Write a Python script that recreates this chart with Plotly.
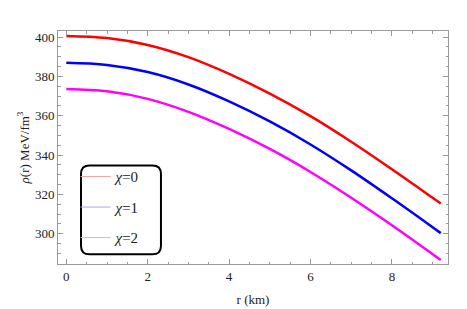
import plotly.graph_objects as go

r_km = [0, 1, 2, 3, 4, 5, 6, 7, 8, 9, 9.2]
rho_chi0 = [400.6, 399.5, 396.0, 389.8, 381.3, 371.3, 359.8, 346.8, 332.8, 318.3, 315.4]
rho_chi1 = [386.9, 385.8, 382.2, 375.9, 367.3, 357.1, 345.4, 332.2, 318.0, 303.3, 300.3]
rho_chi2 = [373.6, 372.4, 368.6, 362.0, 353.3, 343.1, 331.4, 318.3, 304.3, 289.6, 286.6]
series_names = ["<i>χ</i>=0", "<i>χ</i>=1", "<i>χ</i>=2"]
line_colors = ["#ff0000", "#0000ff", "#ff00ff"]
legend_colors = ["#f2a0a0", "#a8a8f4", "#f4a0f4"]

fig = go.Figure()
for i, ys in enumerate([rho_chi0, rho_chi1, rho_chi2]):
    fig.add_trace(go.Scatter(x=r_km, y=ys, mode="lines", line=dict(color=line_colors[i], width=2.5, shape="spline"),
                             showlegend=False, hoverinfo="skip", legendgroup=f"c{i}"))
for i, name in enumerate(series_names):
    fig.add_trace(go.Scatter(x=[None], y=[None], mode="lines", name=name, legendgroup=f"g{i}",
                             line=dict(color=legend_colors[i], width=1)))

# rounded legend frame (paper coordinates)
x0, x1, y0, y1 = 0.059, 0.264, 0.0415, 0.423
rx, ry = 0.022, 0.036
path = (f"M {x0+rx},{y0} L {x1-rx},{y0} Q {x1},{y0} {x1},{y0+ry} L {x1},{y1-ry} Q {x1},{y1} {x1-rx},{y1} "
        f"L {x0+rx},{y1} Q {x0},{y1} {x0},{y1-ry} L {x0},{y0+ry} Q {x0},{y0} {x0+rx},{y0} Z")
fig.add_shape(type="path", path=path, xref="paper", yref="paper", line=dict(color="black", width=2),
              fillcolor="white", layer="below")

font = "Liberation Serif, Times New Roman, serif"
axis_common = dict(showgrid=False, zeroline=False, showline=True, linecolor="#999999", linewidth=1,
                   mirror="ticks", ticks="inside", ticklen=5, tickcolor="#999999",
                   tickfont=dict(family=font, size=13, color="#222222"))
fig.update_layout(
    width=467, height=309,
    margin=dict(l=50, r=27, t=23, b=45),
    paper_bgcolor="white", plot_bgcolor="white",
    font=dict(family=font, color="#222222"),
    xaxis=dict(range=[-0.204, 9.378], tickvals=[0, 2, 4, 6, 8],
               minor=dict(dtick=0.5, tick0=0, ticks="inside", ticklen=2.5, tickcolor="#999999"),
               title=dict(text="r (km)", font=dict(family=font, size=13), standoff=12), **axis_common),
    yaxis=dict(range=[284.6, 403.1], tickvals=[300, 320, 340, 360, 380, 400],
               minor=dict(dtick=5, tick0=0, ticks="inside", ticklen=2.5, tickcolor="#999999"),
               title=dict(text="<i>ρ</i>(r) MeV/fm<sup>3</sup>", font=dict(family=font, size=13), standoff=2),
               **axis_common),
    legend=dict(x=0.045, y=0.445, xanchor="left", yanchor="top", bgcolor="rgba(0,0,0,0)", borderwidth=0,
                font=dict(family=font, size=15, color="#222222"), traceorder="grouped", tracegroupgap=8),
)
fig.write_html("out.html")
